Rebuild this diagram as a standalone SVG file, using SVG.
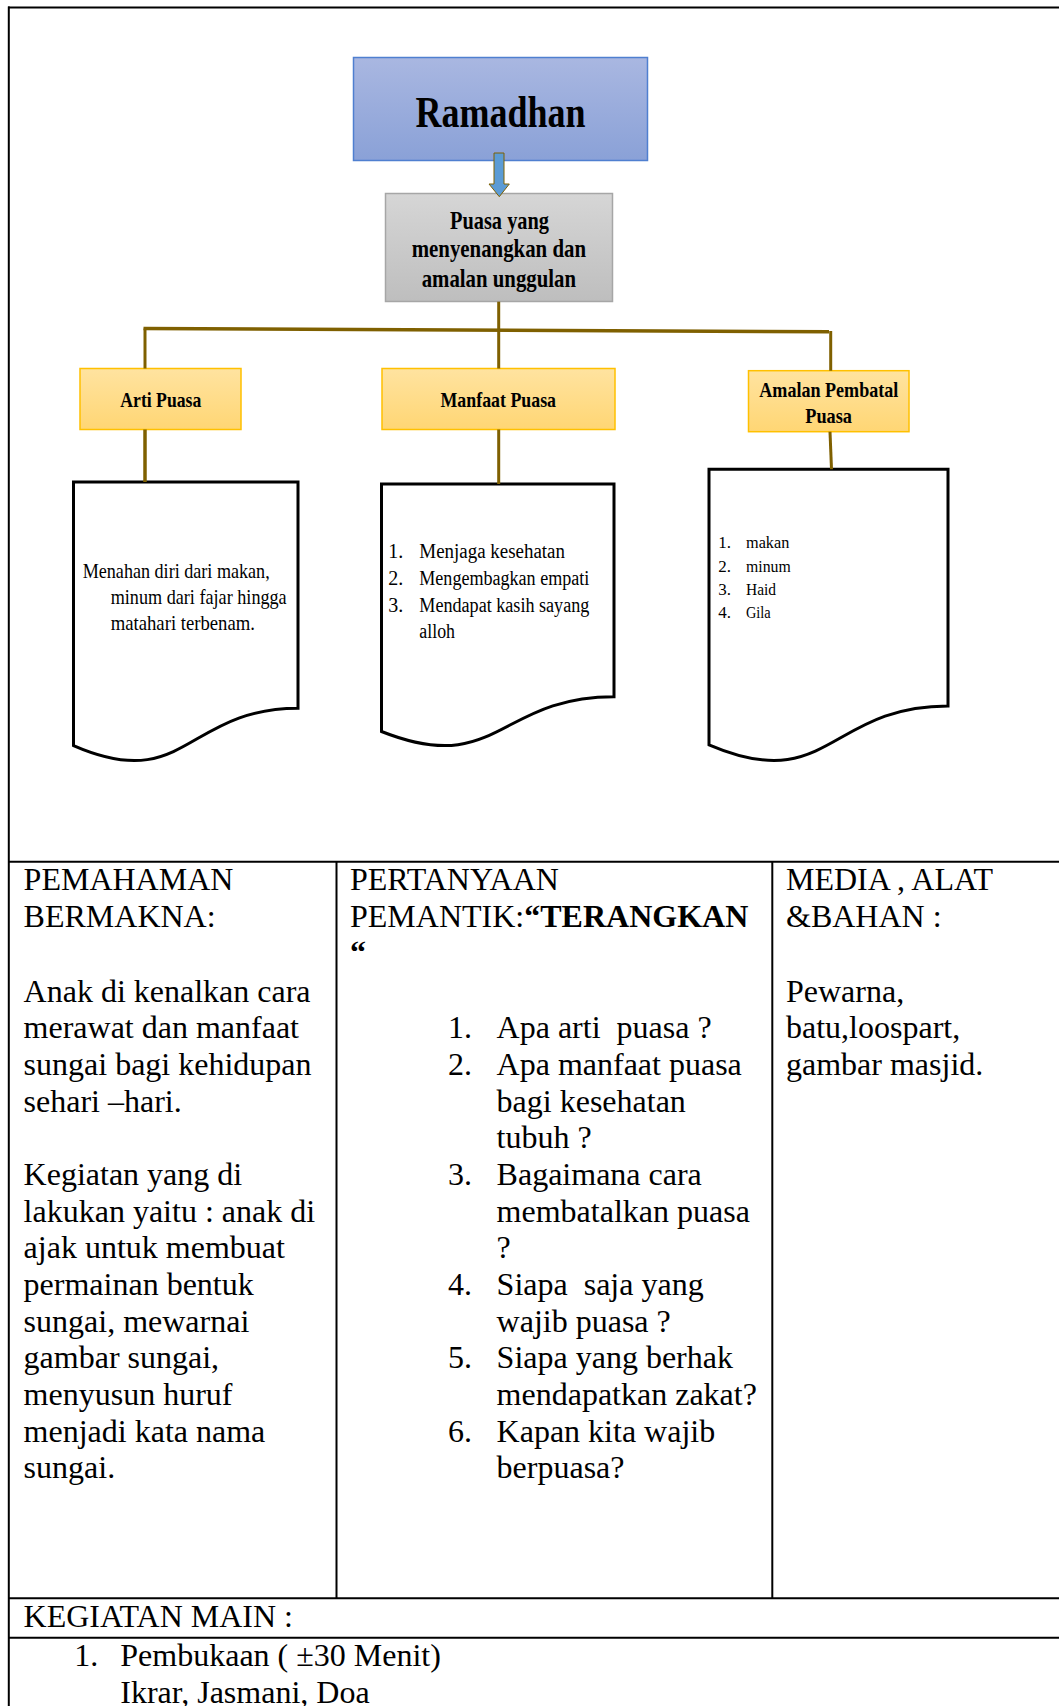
<svg xmlns="http://www.w3.org/2000/svg" width="1059" height="1706" viewBox="0 0 1059 1706">
<style>
.hd{font-family:"Liberation Serif","Times New Roman",serif;font-weight:bold;fill:#000}
.dt{font-family:"Liberation Serif","Times New Roman",serif;fill:#000}
.tb{font-family:"Liberation Serif","Times New Roman",serif;font-size:32px;fill:#000}
.conn{stroke:#7F6000;fill:none;stroke-linecap:butt}
.doc{fill:#fff;stroke:#000;stroke-width:3;stroke-linejoin:miter}
.grid{stroke:#000;stroke-width:2;fill:none}
.yel{fill:url(#gYel);stroke:#FFC000;stroke-width:1.5}
</style>
<defs>
<linearGradient id="gBlue" x1="0" y1="0" x2="0" y2="1"><stop offset="0" stop-color="#A9B7E1"/><stop offset="1" stop-color="#8AA1D7"/></linearGradient>
<linearGradient id="gGray" x1="0" y1="0" x2="0" y2="1"><stop offset="0" stop-color="#D6D6D6"/><stop offset="1" stop-color="#BEBEBE"/></linearGradient>
<linearGradient id="gYel" x1="0" y1="0" x2="0" y2="1"><stop offset="0" stop-color="#FFE3A0"/><stop offset="1" stop-color="#FFD674"/></linearGradient>
</defs>
<rect x="0" y="0" width="1059" height="1706" fill="#fff"/>

<g id="page-border" class="grid">
<line x1="8" y1="7.5" x2="1059" y2="7.5"/>
<line x1="8.8" y1="6.5" x2="8.8" y2="1706"/>
</g>

<g id="node-ramadhan">
<rect x="353.5" y="57.5" width="294" height="103" fill="url(#gBlue)" stroke="#4F7FD0" stroke-width="1.5"/>
<text class="hd" x="415.5" y="126.7" font-size="45" textLength="170" lengthAdjust="spacingAndGlyphs">Ramadhan</text>
</g>

<g id="node-puasa">
<rect x="385.5" y="193.5" width="227" height="108" fill="url(#gGray)" stroke="#A6A6A6" stroke-width="1.5"/>
<text class="hd" font-size="26" x="450" y="229" textLength="99" lengthAdjust="spacingAndGlyphs">Puasa yang</text>
<text class="hd" font-size="26" x="411.7" y="257.3" textLength="174.3" lengthAdjust="spacingAndGlyphs">menyenangkan dan</text>
<text class="hd" font-size="26" x="421.7" y="286.7" textLength="154.3" lengthAdjust="spacingAndGlyphs">amalan unggulan</text>
</g>

<g id="node-arti">
<rect class="yel" x="80" y="368.5" width="161" height="61"/>
<text class="hd" font-size="22" x="120.3" y="406.7" textLength="81" lengthAdjust="spacingAndGlyphs">Arti Puasa</text>
</g>

<g id="node-manfaat">
<rect class="yel" x="382" y="368.5" width="233" height="61"/>
<text class="hd" font-size="22" x="440.5" y="406.7" textLength="115.5" lengthAdjust="spacingAndGlyphs">Manfaat Puasa</text>
</g>

<g id="node-amalan">
<rect class="yel" x="748.5" y="370.7" width="160.5" height="61"/>
<text class="hd" font-size="22" x="759.3" y="396.7" textLength="139" lengthAdjust="spacingAndGlyphs">Amalan Pembatal</text>
<text class="hd" font-size="22" x="805.3" y="423.3" textLength="46.7" lengthAdjust="spacingAndGlyphs">Puasa</text>
</g>

<g id="doc-arti">
<path class="doc" d="M73.5,482 H298 V708.3 C185.75,708.3 185.75,794.5 73.5,745.6 Z"/>
<text class="dt" font-size="21" x="82.7" y="578.3" textLength="187" lengthAdjust="spacingAndGlyphs">Menahan diri dari makan,</text>
<text class="dt" font-size="21" x="110.7" y="603.8" textLength="176" lengthAdjust="spacingAndGlyphs">minum dari fajar hingga</text>
<text class="dt" font-size="21" x="110.7" y="629.5" textLength="144.3" lengthAdjust="spacingAndGlyphs">matahari terbenam.</text>
</g>

<g id="doc-manfaat">
<path class="doc" d="M381.5,484 H614 V696.7 C497.75,696.7 497.75,777.5 381.5,731.5 Z"/>
<text class="dt" font-size="20" x="388.3" y="558.3">1.</text>
<text class="dt" font-size="20" x="419.3" y="558.3" textLength="145.7" lengthAdjust="spacingAndGlyphs">Menjaga kesehatan</text>
<text class="dt" font-size="20" x="388.3" y="585">2.</text>
<text class="dt" font-size="20" x="419.3" y="585" textLength="170" lengthAdjust="spacingAndGlyphs">Mengembagkan empati</text>
<text class="dt" font-size="20" x="388.3" y="611.7">3.</text>
<text class="dt" font-size="20" x="419.3" y="611.7" textLength="170" lengthAdjust="spacingAndGlyphs">Mendapat kasih sayang</text>
<text class="dt" font-size="20" x="419.3" y="638.3" textLength="35.7" lengthAdjust="spacingAndGlyphs">alloh</text>
</g>

<g id="doc-amalan">
<path class="doc" d="M709,469.3 H948 V706 C828.5,706 828.5,796 709,744.8 Z"/>
<text class="dt" font-size="17" x="718.3" y="548.3">1.</text>
<text class="dt" font-size="17" x="746" y="548.3" textLength="43.3" lengthAdjust="spacingAndGlyphs">makan</text>
<text class="dt" font-size="17" x="718.3" y="571.7">2.</text>
<text class="dt" font-size="17" x="746" y="571.7" textLength="44.7" lengthAdjust="spacingAndGlyphs">minum</text>
<text class="dt" font-size="17" x="718.3" y="595">3.</text>
<text class="dt" font-size="17" x="746" y="595" textLength="30" lengthAdjust="spacingAndGlyphs">Haid</text>
<text class="dt" font-size="17" x="718.3" y="618.3">4.</text>
<text class="dt" font-size="17" x="746" y="618.3" textLength="24.7" lengthAdjust="spacingAndGlyphs">Gila</text>
</g>

<g id="connectors">
<path d="M494,153 H504 V184 H509.3 L499.3,196.7 L489,184 H494 Z" fill="#5B9BD5" stroke="#7F6000" stroke-width="1"/>
<line class="conn" stroke-width="3" x1="498.7" y1="301.7" x2="498.7" y2="368.5"/>
<line class="conn" stroke-width="3.5" x1="143.5" y1="328.5" x2="829" y2="331.7"/>
<line class="conn" stroke-width="3" x1="145" y1="328.5" x2="145" y2="368.5"/>
<line class="conn" stroke-width="3" x1="830.7" y1="331" x2="830.7" y2="370.7"/>
<line class="conn" stroke-width="3.5" x1="145" y1="429.5" x2="145" y2="482"/>
<line class="conn" stroke-width="3" x1="498.7" y1="429.5" x2="498.7" y2="484"/>
<line class="conn" stroke-width="3" x1="830" y1="431.7" x2="831.5" y2="469.3"/>
</g>

<g id="table">
<g class="grid">
<line x1="8" y1="861.7" x2="1059" y2="861.7"/>
<line x1="336.5" y1="861.7" x2="336.5" y2="1598.3"/>
<line x1="772.3" y1="861.7" x2="772.3" y2="1598.3"/>
<line x1="8" y1="1598.3" x2="1059" y2="1598.3"/>
<line x1="8" y1="1637.7" x2="1059" y2="1637.7"/>
</g>
<g id="col-pemahaman" class="tb">
<text x="23.6" y="890">PEMAHAMAN</text>
<text x="23.6" y="926.7">BERMAKNA:</text>
<text x="23.6" y="1001.7">Anak di kenalkan cara</text>
<text x="23.6" y="1038.3">merawat dan manfaat</text>
<text x="23.6" y="1075">sungai bagi kehidupan</text>
<text x="23.6" y="1111.7">sehari –hari.</text>
<text x="23.6" y="1185">Kegiatan yang di</text>
<text x="23.6" y="1221.7">lakukan yaitu : anak di</text>
<text x="23.6" y="1258.3">ajak untuk membuat</text>
<text x="23.6" y="1295">permainan bentuk</text>
<text x="23.6" y="1331.7">sungai, mewarnai</text>
<text x="23.6" y="1368.3">gambar sungai,</text>
<text x="23.6" y="1405">menyusun huruf</text>
<text x="23.6" y="1441.7">menjadi kata nama</text>
<text x="23.6" y="1478.3">sungai.</text>
</g>
<g id="col-pertanyaan" class="tb">
<text x="350" y="890">PERTANYAAN</text>
<text x="350" y="926.7">PEMANTIK:<tspan font-weight="bold">“TERANGKAN</tspan></text>
<text x="350" y="963.3" font-weight="bold">“</text>
<text x="448" y="1038.3">1.</text>
<text x="496.6" y="1038.3" xml:space="preserve">Apa arti  puasa ?</text>
<text x="448" y="1075">2.</text>
<text x="496.6" y="1075">Apa manfaat puasa</text>
<text x="496.6" y="1111.7">bagi kesehatan</text>
<text x="496.6" y="1148.3">tubuh ?</text>
<text x="448" y="1185">3.</text>
<text x="496.6" y="1185">Bagaimana cara</text>
<text x="496.6" y="1221.7">membatalkan puasa</text>
<text x="496.6" y="1258.3">?</text>
<text x="448" y="1295">4.</text>
<text x="496.6" y="1295" xml:space="preserve">Siapa  saja yang</text>
<text x="496.6" y="1331.7">wajib puasa ?</text>
<text x="448" y="1368.3">5.</text>
<text x="496.6" y="1368.3">Siapa yang berhak</text>
<text x="496.6" y="1405">mendapatkan zakat?</text>
<text x="448" y="1441.7">6.</text>
<text x="496.6" y="1441.7">Kapan kita wajib</text>
<text x="496.6" y="1478.3">berpuasa?</text>
</g>
<g id="col-media" class="tb">
<text x="786" y="890">MEDIA , ALAT</text>
<text x="786" y="926.7">&amp;BAHAN :</text>
<text x="786" y="1001.7">Pewarna,</text>
<text x="786" y="1038.3">batu,loospart,</text>
<text x="786" y="1075">gambar masjid.</text>
</g>
<g id="row-kegiatan" class="tb">
<text x="23.6" y="1626.7">KEGIATAN MAIN :</text>
<text x="74.3" y="1666">1.</text>
<text x="120.3" y="1666">Pembukaan ( ±30 Menit)</text>
<text x="120.3" y="1703">Ikrar, Jasmani, Doa</text>
</g>
</g>
</svg>
